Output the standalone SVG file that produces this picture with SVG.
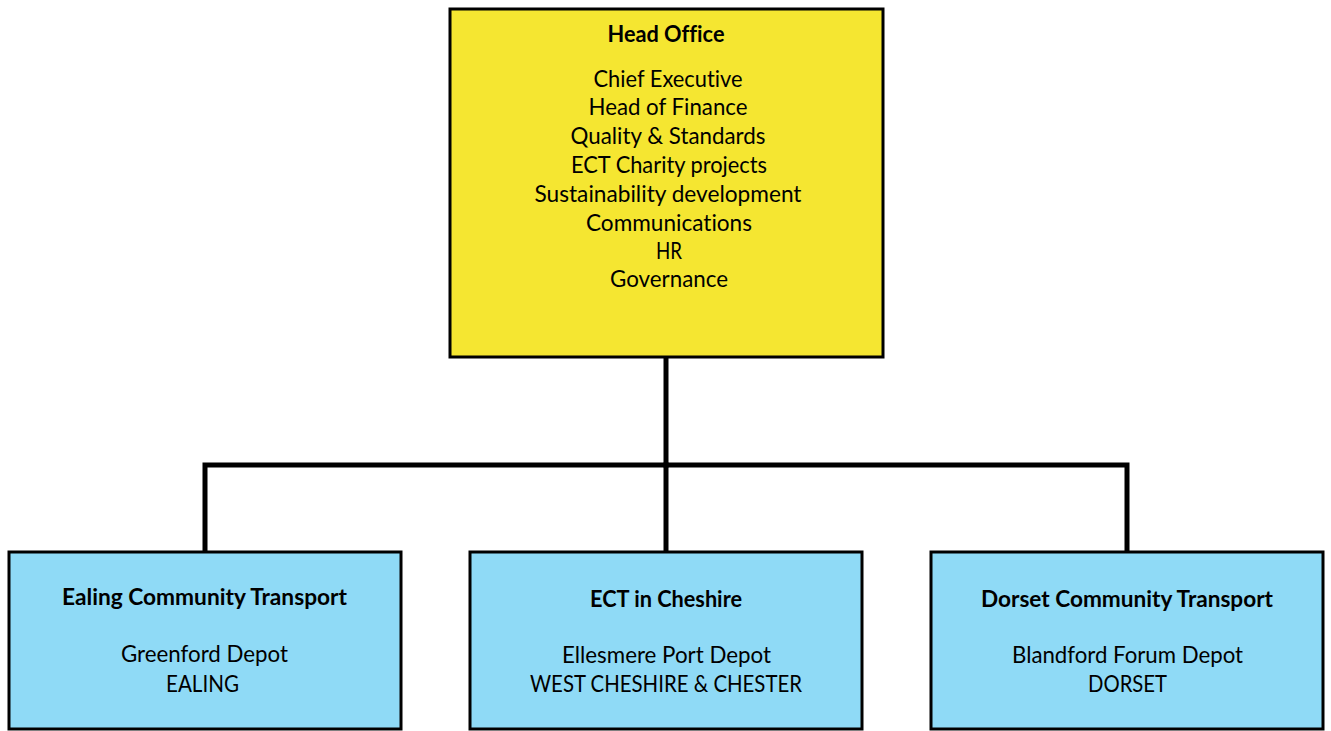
<svg xmlns="http://www.w3.org/2000/svg" width="1331" height="731" viewBox="0 0 1331 731">
<style>
.bg{fill:#ffffff}
.head{fill:#F5E631;stroke:#000;stroke-width:3}
.dep{fill:#8FDAF6;stroke:#000;stroke-width:3}
.conn{fill:none;stroke:#000;stroke-width:5;stroke-linecap:square;stroke-linejoin:miter}
text{font-family:Lato,"Open Sans","Liberation Sans",sans-serif;font-size:22.5px;fill:#000;text-anchor:middle;font-variant-ligatures:none}
.b{font-weight:bold}
</style>
<rect class="bg" x="0" y="0" width="1331" height="731"/>
<g id="connectors">
<polyline class="conn" points="666,358 666,465"/>
<polyline class="conn" points="205,551 205,465 1127,465 1127,551"/>
<polyline class="conn" points="666,465 666,551"/>
</g>
<g id="head-office">
<rect class="head" x="450" y="9" width="433" height="348"/>
<text class="b" x="666" y="42" textLength="117" lengthAdjust="spacingAndGlyphs">Head Office</text>
<text x="668" y="87" textLength="149" lengthAdjust="spacingAndGlyphs">Chief Executive</text>
<text x="668" y="115" textLength="159" lengthAdjust="spacingAndGlyphs">Head of Finance</text>
<text x="668" y="144" textLength="195" lengthAdjust="spacingAndGlyphs">Quality &amp; Standards</text>
<text x="669" y="173" textLength="196" lengthAdjust="spacingAndGlyphs">ECT Charity projects</text>
<text x="668" y="202" textLength="267" lengthAdjust="spacingAndGlyphs">Sustainability development</text>
<text x="669" y="231" textLength="166" lengthAdjust="spacingAndGlyphs">Communications</text>
<text x="669" y="259" textLength="26" lengthAdjust="spacingAndGlyphs">HR</text>
<text x="669" y="287" textLength="118" lengthAdjust="spacingAndGlyphs">Governance</text>
</g>
<g id="ealing">
<rect class="dep" x="9" y="552" width="392" height="177"/>
<text class="b" x="204.5" y="605" textLength="285" lengthAdjust="spacingAndGlyphs">Ealing Community Transport</text>
<text x="204.5" y="662" textLength="167" lengthAdjust="spacingAndGlyphs">Greenford Depot</text>
<text x="202.5" y="692" textLength="73" lengthAdjust="spacingAndGlyphs">EALING</text>
</g>
<g id="cheshire">
<rect class="dep" x="470" y="552" width="392" height="177"/>
<text class="b" x="666" y="607" textLength="152" lengthAdjust="spacingAndGlyphs">ECT in Cheshire</text>
<text x="666.5" y="663" textLength="209" lengthAdjust="spacingAndGlyphs">Ellesmere Port Depot</text>
<text x="666" y="692" textLength="272" lengthAdjust="spacingAndGlyphs">WEST CHESHIRE &amp; CHESTER</text>
</g>
<g id="dorset">
<rect class="dep" x="931" y="552" width="392" height="177"/>
<text class="b" x="1127" y="607" textLength="292" lengthAdjust="spacingAndGlyphs">Dorset Community Transport</text>
<text x="1127.5" y="663" textLength="231" lengthAdjust="spacingAndGlyphs">Blandford Forum Depot</text>
<text x="1127.5" y="692" textLength="79" lengthAdjust="spacingAndGlyphs">DORSET</text>
</g>
</svg>
